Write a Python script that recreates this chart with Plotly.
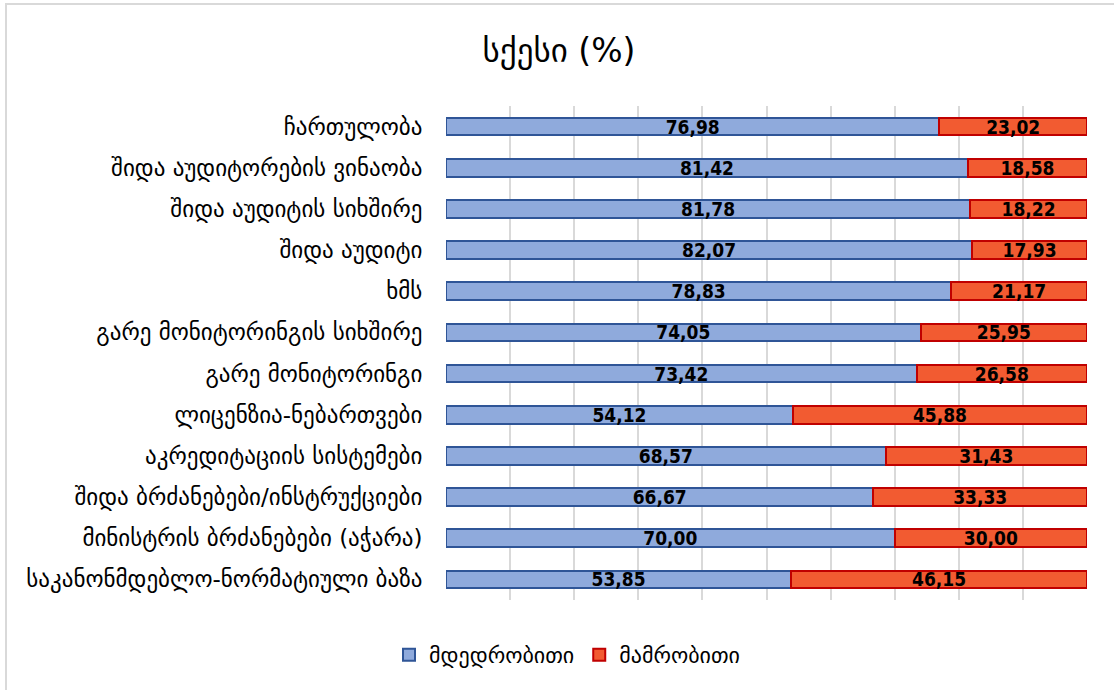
import plotly.graph_objects as go

# Survey categories (top to bottom) and gender shares in percent
categories = [
    "ჩართულობა",
    "შიდა აუდიტორების ვინაობა",
    "შიდა აუდიტის სიხშირე",
    "შიდა აუდიტი",
    "ხმს",
    "გარე მონიტორინგის სიხშირე",
    "გარე მონიტორინგი",
    "ლიცენზია-ნებართვები",
    "აკრედიტაციის სისტემები",
    "შიდა ბრძანებები/ინსტრუქციები",
    "მინისტრის ბრძანებები (აჭარა)",
    "საკანონმდებლო-ნორმატიული ბაზა",
]
female = [76.98, 81.42, 81.78, 82.07, 78.83, 74.05, 73.42, 54.12, 68.57, 66.67, 70.00, 53.85]
male = [23.02, 18.58, 18.22, 17.93, 21.17, 25.95, 26.58, 45.88, 31.43, 33.33, 30.00, 46.15]

series_names = ["მდედრობითი", "მამრობითი"]
title_text = "სქესი (%)"

FONT = "DejaVu Sans"
NUM_FONT = "DejaVu Sans Condensed, DejaVu Sans"
W, H = 1114, 690
ML, MR, MT, MB = 446, 27, 106, 90


def comma(v):
    return f"{v:.2f}".replace(".", ",")


label_font = dict(family=NUM_FONT, size=19, color="#000000", weight="bold")

fig = go.Figure()
fig.add_trace(go.Bar(
    y=categories, x=female, name=series_names[0], orientation="h",
    marker=dict(color="#8FAADC", line=dict(color="#2F5597", width=2)),
    text=[comma(v) for v in female], textposition="inside",
    insidetextanchor="middle", textfont=label_font,
    width=0.43,
))
fig.add_trace(go.Bar(
    y=categories, x=male, name=series_names[1], orientation="h",
    marker=dict(color="#F25B31", line=dict(color="#C00000", width=2)),
    text=[comma(v) for v in male], textposition="inside",
    insidetextanchor="middle", textfont=label_font,
    width=0.43,
))

# Outer chart frame (runs past the right and bottom edges of the page)
pw = W - ML - MR
ph = H - MT - MB
def px_x(p):
    return (p - ML) / pw
def px_y(p):
    return 1 - (p - MT) / ph

fig.add_shape(
    type="rect", xref="paper", yref="paper",
    x0=px_x(6), x1=px_x(1120), y0=px_y(4), y1=px_y(700),
    line=dict(color="#D9D9D9", width=2), fillcolor="rgba(0,0,0,0)", layer="below",
)

fig.update_layout(
    width=W, height=H,
    margin=dict(l=ML, r=MR, t=MT, b=MB, pad=0),
    barmode="stack",
    paper_bgcolor="white", plot_bgcolor="white",
    font=dict(family=FONT, color="#000000"),
    title=dict(text=title_text, x=559 / W, xref="container", xanchor="center",
               y=1 - 50 / H, yanchor="middle", yref="container",
               font=dict(family=FONT, size=33, color="#000000")),
    uniformtext=dict(minsize=19, mode="show"),
    showlegend=True,
    legend=dict(orientation="h", xref="container", yref="container",
                x=567 / W, xanchor="center", y=1 - 655 / H, yanchor="middle",
                font=dict(family=FONT, size=22, color="#000000"),
                itemwidth=30, traceorder="normal"),
    xaxis=dict(range=[0, 100], dtick=10, showgrid=True, gridcolor="#D9D9D9",
               gridwidth=2, showticklabels=False, zeroline=False,
               showline=False, ticks="", fixedrange=True),
    yaxis=dict(autorange="reversed", showgrid=False, ticks="outside",
               ticklen=18, tickcolor="rgba(0,0,0,0)",
               showline=False,
               tickfont=dict(family=FONT, size=23, color="#000000")),
)

fig.write_html("out.html")
